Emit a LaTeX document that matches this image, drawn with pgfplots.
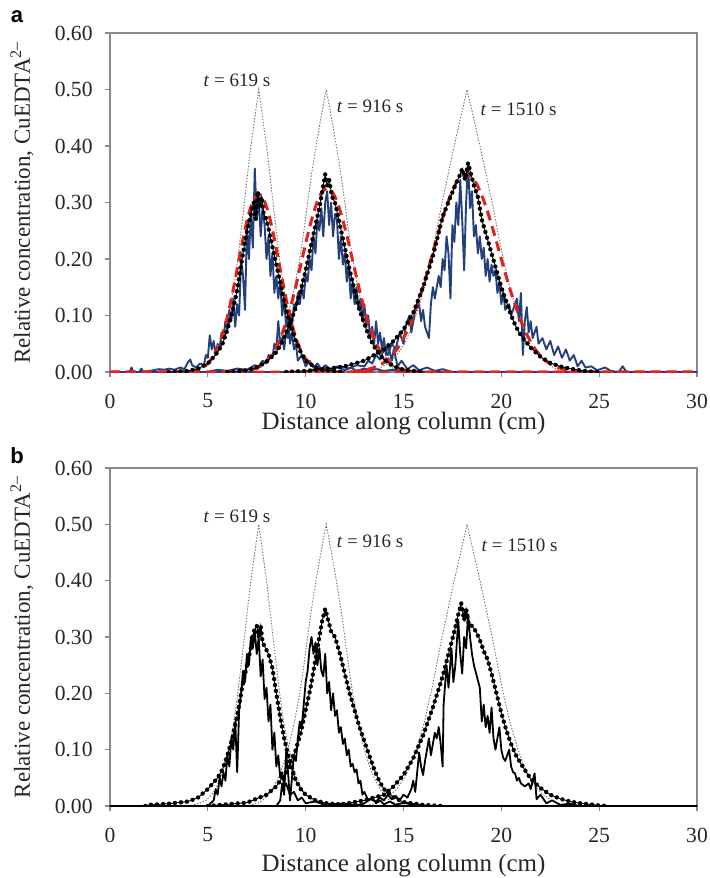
\documentclass[border=0pt]{standalone}
\usepackage{fontspec}
\setmainfont{Liberation Serif}
\newfontfamily\panelfont{Liberation Sans}
\usepackage{pgfplots}
\pgfplotsset{compat=1.18}
\definecolor{navy}{HTML}{23407A}
\definecolor{redd}{HTML}{E0221C}
\definecolor{framec}{HTML}{8A8A8A}
\definecolor{trigc}{HTML}{707070}

\tikzset{ann/.style={font=\fontsize{9.5}{11}\selectfont, text=black!85}}
\pgfplotsset{
  panel/.style={
    scale only axis, width=293.5pt, height=169.5pt,
    xmin=0, xmax=30, ymin=0, ymax=0.6,
    xtick={0,5,10,15,20,25,30}, ytick={0,0.1,0.2,0.3,0.4,0.5,0.6},
    /pgf/number format/assume math mode=true,
    axis line style={framec, line width=0.6pt},
    tick style={framec, line width=0.6pt},
    tick align=outside, major tick length=2.5pt,
    xtick pos=bottom, ytick pos=left,
    yticklabel style={/pgf/number format/fixed, /pgf/number format/fixed zerofill, /pgf/number format/precision=2,
      font=\fontsize{10.8}{12}\selectfont, text=black!85, anchor=east, inner sep=0pt, xshift=-6pt},
    xticklabel style={font=\fontsize{10.8}{12}\selectfont, text=black!85, anchor=center, inner sep=0pt, yshift=-12pt},
    xlabel={Distance along column (cm)},
    ylabel={Relative concentration, CuEDTA\textsuperscript{2–}},
    ylabel style={at={(axis description cs:-0.15,0.5)}, anchor=center, font=\fontsize{11.5}{13}\selectfont, text=black!85},
    no markers,
  },
  trig/.style={trigc, line width=0.45pt, dash pattern=on 0.7pt off 0.8pt},
  bdot/.style={black, line width=0.45pt, postaction={draw, black, line width=2.2pt, dash pattern=on 0pt off 3pt, line cap=round}},
  blu/.style={navy, line width=0.95pt, line join=round},
  redash/.style={redd, line width=1.5pt, dash pattern=on 5pt off 3pt, smooth},
  bsol/.style={black, line width=0.9pt, line join=round},
}

\begin{document}
\begin{tikzpicture}
\useasboundingbox (-55pt,-253pt) rectangle (299.5pt,186pt);

% ---------------- panel a ----------------
\begin{axis}[panel, at={(0,0)}, anchor=origin,
  xlabel style={at={(axis description cs:0.5,0)}, anchor=center, yshift=-26pt, font=\fontsize{12.5}{14}\selectfont, text=black!85}]
% triangles
\addplot[trig] coordinates {(4.0,0) (4.6,0.005) (4.9,0.01) (5.2,0.02) (5.4,0.03) (5.65,0.05) (5.87,0.075) (6.05,0.1) (6.33,0.15) (6.53,0.2) (6.7,0.25) (6.87,0.3) (7.03,0.35) (7.2,0.4) (7.4,0.45) (7.6,0.5) (7.8,0.45) (8.0,0.4) (8.17,0.35) (8.33,0.3) (8.5,0.25) (8.67,0.2) (8.87,0.15) (9.15,0.1) (9.33,0.075) (9.55,0.05) (9.8,0.03) (10.0,0.02) (10.3,0.01) (10.6,0.005) (11.2,0)};
\addplot[trig] coordinates {(6.95,0) (7.55,0.005) (7.8,0.01) (8.1,0.02) (8.3,0.03) (8.6,0.05) (8.88,0.075) (9.1,0.1) (9.43,0.15) (9.7,0.2) (9.91,0.25) (10.1,0.3) (10.3,0.35) (10.53,0.4) (10.78,0.45) (11.05,0.5) (11.32,0.45) (11.57,0.4) (11.8,0.35) (12.0,0.3) (12.19,0.25) (12.4,0.2) (12.67,0.15) (13.0,0.1) (13.22,0.075) (13.5,0.05) (13.8,0.03) (14.0,0.02) (14.3,0.01) (14.55,0.005) (15.15,0)};
\addplot[trig] coordinates {(12.95,0) (13.65,0.005) (13.95,0.01) (14.35,0.02) (14.65,0.03) (15.05,0.05) (15.38,0.075) (15.65,0.1) (16.07,0.15) (16.4,0.2) (16.69,0.25) (16.97,0.3) (17.28,0.35) (17.59,0.4) (17.92,0.45) (18.25,0.5) (18.58,0.45) (18.91,0.4) (19.22,0.35) (19.53,0.3) (19.81,0.25) (20.1,0.2) (20.43,0.15) (20.85,0.1) (21.12,0.075) (21.45,0.05) (21.85,0.03) (22.15,0.02) (22.55,0.01) (22.85,0.005) (23.55,0)};
% blue noisy
\addplot[blu] coordinates {(0,0) (1.0,0) (1.1,0.008) (1.2,0) (1.5,0) (1.6,0.006) (1.7,0) (2.2,0.003) (2.5,0.005) (2.8,0.004) (3.0,0.006) (3.3,0.004) (3.6,0.008) (3.8,0.005) (4.0,0.018) (4.1,0.022) (4.2,0.012) (4.4,0.008) (4.6,0.015) (4.8,0.012) (4.9,0.03) (5.0,0.025) (5.1,0.065) (5.2,0.04) (5.3,0.055) (5.4,0.03) (5.5,0.05) (5.6,0.04) (5.7,0.07) (5.8,0.06) (5.9,0.09) (6.0,0.075) (6.1,0.11) (6.2,0.09) (6.3,0.13) (6.4,0.08) (6.5,0.12) (6.6,0.10) (6.7,0.2) (6.8,0.17) (6.9,0.11) (7.0,0.26) (7.1,0.2) (7.2,0.28) (7.3,0.22) (7.4,0.36) (7.5,0.27) (7.6,0.31) (7.7,0.24) (7.8,0.29) (7.9,0.26) (8.0,0.2) (8.1,0.24) (8.2,0.17) (8.3,0.21) (8.4,0.14) (8.5,0.17) (8.6,0.13) (8.7,0.16) (8.8,0.1) (8.9,0.13) (9.0,0.08) (9.1,0.1) (9.2,0.05) (9.3,0.07) (9.4,0.04) (9.5,0.05) (9.6,0.02) (9.8,0.03) (10.0,0.01) (10.2,0.02) (10.4,0.008) (10.6,0.015) (10.8,0.005) (11.0,0.012) (11.3,0.004) (11.6,0.01) (12.0,0.003) (12.3,0.008) (12.6,0.002) (13.0,0.006) (13.3,0.003) (13.6,0.005) (14.0,0.002) (14.5,0.004) (15,0) (30,0)};
\addplot[blu] coordinates {(0,0) (5.0,0) (5.5,0.004) (6.0,0.002) (6.5,0.006) (7.0,0.004) (7.4,0.012) (7.6,0.01) (7.8,0.02) (8.0,0.015) (8.1,0.03) (8.3,0.025) (8.4,0.05) (8.5,0.04) (8.6,0.09) (8.7,0.05) (8.8,0.06) (8.9,0.04) (9.0,0.07) (9.1,0.06) (9.2,0.1) (9.3,0.08) (9.4,0.12) (9.5,0.11) (9.6,0.14) (9.7,0.12) (9.8,0.15) (9.9,0.13) (10.0,0.17) (10.1,0.16) (10.2,0.2) (10.3,0.18) (10.4,0.24) (10.5,0.21) (10.6,0.27) (10.7,0.25) (10.8,0.29) (10.9,0.24) (11.0,0.3) (11.1,0.32) (11.2,0.26) (11.3,0.3) (11.4,0.24) (11.5,0.28) (11.6,0.27) (11.7,0.2) (11.8,0.24) (11.9,0.19) (12.0,0.21) (12.1,0.16) (12.2,0.19) (12.3,0.13) (12.4,0.16) (12.5,0.12) (12.6,0.15) (12.7,0.11) (12.8,0.13) (12.9,0.09) (13.0,0.12) (13.1,0.08) (13.2,0.1) (13.3,0.06) (13.4,0.08) (13.5,0.05) (13.6,0.09) (13.7,0.05) (13.8,0.07) (13.9,0.04) (14.0,0.06) (14.1,0.03) (14.2,0.05) (14.4,0.02) (14.5,0.04) (14.7,0.01) (14.9,0.02) (15.2,0.005) (15.5,0.012) (15.8,0.003) (16.2,0.008) (16.6,0.002) (17.0,0.005) (17.5,0) (30,0)};
\addplot[blu] coordinates {(0,0) (10.0,0) (10.3,0.004) (10.6,0.002) (11.0,0.008) (11.4,0.005) (11.8,0.01) (12.2,0.006) (12.6,0.012) (13.0,0.01) (13.2,0.02) (13.4,0.015) (13.6,0.03) (13.8,0.022) (14.0,0.04) (14.2,0.03) (14.4,0.05) (14.6,0.04) (14.8,0.07) (15.0,0.05) (15.1,0.08) (15.3,0.1) (15.4,0.07) (15.6,0.11) (15.8,0.12) (15.9,0.09) (16.0,0.11) (16.1,0.08) (16.3,0.06) (16.4,0.12) (16.5,0.15) (16.6,0.13) (16.8,0.17) (16.9,0.15) (17.0,0.2) (17.1,0.18) (17.2,0.24) (17.3,0.21) (17.4,0.13) (17.5,0.26) (17.6,0.23) (17.7,0.3) (17.8,0.26) (17.9,0.34) (18.0,0.27) (18.1,0.18) (18.2,0.3) (18.3,0.37) (18.4,0.29) (18.5,0.32) (18.6,0.24) (18.7,0.26) (18.8,0.21) (18.9,0.24) (19.0,0.2) (19.1,0.22) (19.2,0.17) (19.3,0.2) (19.4,0.16) (19.5,0.19) (19.6,0.17) (19.7,0.18) (19.8,0.14) (19.9,0.16) (20.0,0.12) (20.1,0.14) (20.2,0.11) (20.4,0.12) (20.5,0.1) (20.6,0.11) (20.8,0.13) (20.9,0.09) (21.0,0.14) (21.1,0.03) (21.2,0.09) (21.3,0.115) (21.4,0.07) (21.5,0.09) (21.6,0.06) (21.8,0.08) (21.9,0.05) (22.1,0.06) (22.3,0.04) (22.5,0.055) (22.7,0.03) (22.9,0.045) (23.1,0.025) (23.3,0.04) (23.5,0.02) (23.7,0.03) (23.9,0.01) (24.1,0.02) (24.3,0.008) (24.6,0.01) (24.9,0.003) (25.3,0.008) (25.6,0.002) (26.0,0) (26.2,0.01) (26.4,0) (30,0)};
% red dashed model
\addplot[redash] coordinates {(0,0) (3.6,0) (4.1,0.001) (4.6,0.005) (4.85,0.010) (5.1,0.019) (5.35,0.032) (5.6,0.051) (5.85,0.078) (6.1,0.113) (6.35,0.155) (6.6,0.200) (6.85,0.244) (7.1,0.281) (7.35,0.306) (7.6,0.315) (7.85,0.306) (8.1,0.281) (8.35,0.244) (8.6,0.2) (8.85,0.155) (9.1,0.113) (9.35,0.078) (9.6,0.051) (9.85,0.032) (10.1,0.019) (10.35,0.010) (10.6,0.005) (11.1,0.001) (11.6,0) (30,0)};
\addplot[redash] coordinates {(0,0) (6.1,0) (6.6,0.001) (7.1,0.003) (7.6,0.009) (8.1,0.023) (8.35,0.035) (8.6,0.051) (8.85,0.073) (9.1,0.099) (9.35,0.131) (9.6,0.167) (9.85,0.205) (10.1,0.242) (10.35,0.275) (10.6,0.302) (10.85,0.319) (11.1,0.325) (11.35,0.319) (11.6,0.302) (11.85,0.275) (12.1,0.242) (12.35,0.205) (12.6,0.167) (12.85,0.131) (13.1,0.099) (13.35,0.073) (13.6,0.051) (13.85,0.035) (14.1,0.023) (14.6,0.009) (15.1,0.003) (15.6,0.001) (16.1,0) (30,0)};
\addplot[redash] coordinates {(0,0) (12.2,0) (12.7,0.002) (13.2,0.005) (13.7,0.011) (14.2,0.022) (14.7,0.042) (15.2,0.074) (15.7,0.119) (16.2,0.175) (16.7,0.237) (17.2,0.294) (17.7,0.335) (18.2,0.35) (18.7,0.335) (19.2,0.294) (19.7,0.237) (20.2,0.175) (20.7,0.119) (21.2,0.074) (21.7,0.042) (22.2,0.022) (22.7,0.011) (23.2,0.005) (23.7,0.002) (24.2,0) (30,0)};
% black dotted
\addplot[bdot] coordinates {(3.0,0) (4.0,0.002) (4.5,0.006) (5.0,0.015) (5.25,0.025) (5.5,0.035) (5.75,0.05) (6.0,0.075) (6.25,0.105) (6.5,0.145) (6.75,0.2) (7.0,0.25) (7.2,0.28) (7.35,0.30) (7.45,0.27) (7.55,0.32) (7.65,0.29) (7.75,0.31) (7.85,0.28) (8.0,0.27) (8.25,0.23) (8.5,0.19) (8.75,0.15) (9.0,0.11) (9.25,0.08) (9.5,0.055) (9.75,0.035) (10.0,0.02) (10.5,0.008) (11,0.003) (12,0)};
\addplot[bdot] coordinates {(6.0,0) (7.0,0.003) (7.5,0.008) (8.0,0.018) (8.5,0.035) (8.75,0.05) (9.0,0.07) (9.25,0.09) (9.5,0.115) (9.75,0.145) (10.0,0.18) (10.25,0.22) (10.5,0.26) (10.7,0.29) (10.85,0.32) (11.0,0.35) (11.1,0.33) (11.2,0.34) (11.35,0.31) (11.5,0.30) (11.75,0.26) (12.0,0.22) (12.25,0.18) (12.5,0.145) (12.75,0.11) (13.0,0.085) (13.25,0.062) (13.5,0.045) (13.75,0.032) (14.0,0.022) (14.5,0.01) (15,0.004) (16,0)};
\addplot[bdot] coordinates {(9.0,0) (10.0,0.002) (11.0,0.005) (12.0,0.01) (13.0,0.02) (14.0,0.04) (14.5,0.055) (15.0,0.075) (15.5,0.105) (16.0,0.15) (16.5,0.205) (17.0,0.275) (17.4,0.31) (17.7,0.335) (17.9,0.35) (18.0,0.36) (18.15,0.34) (18.3,0.37) (18.45,0.35) (18.6,0.33) (18.8,0.31) (19.0,0.27) (19.25,0.24) (19.5,0.21) (19.75,0.18) (20.0,0.15) (20.25,0.125) (20.5,0.10) (20.75,0.08) (21.0,0.065) (21.5,0.043) (22.0,0.027) (22.5,0.016) (23.0,0.01) (23.5,0.006) (24.0,0.003) (24.5,0.001) (25,0)};
\node[ann] at (axis cs:6.49,0.517) {\textit{t} = 619 s};
\node[ann] at (axis cs:13.29,0.471) {\textit{t} = 916 s};
\node[ann] at (axis cs:20.88,0.465) {\textit{t} = 1510 s};
\end{axis}

% ---------------- panel b ----------------
\begin{axis}[panel, at={(0,-217pt)}, anchor=origin, height=169pt,
  xlabel style={at={(axis description cs:0.5,0)}, anchor=center, yshift=-30pt, font=\fontsize{12.5}{14}\selectfont, text=black!85}]
\addplot[trig] coordinates {(4.0,0) (4.6,0.005) (4.9,0.01) (5.2,0.02) (5.4,0.03) (5.65,0.05) (5.87,0.075) (6.05,0.1) (6.33,0.15) (6.53,0.2) (6.7,0.25) (6.87,0.3) (7.03,0.35) (7.2,0.4) (7.4,0.45) (7.6,0.5) (7.8,0.45) (8.0,0.4) (8.17,0.35) (8.33,0.3) (8.5,0.25) (8.67,0.2) (8.87,0.15) (9.15,0.1) (9.33,0.075) (9.55,0.05) (9.8,0.03) (10.0,0.02) (10.3,0.01) (10.6,0.005) (11.2,0)};
\addplot[trig] coordinates {(6.95,0) (7.55,0.005) (7.8,0.01) (8.1,0.02) (8.3,0.03) (8.6,0.05) (8.88,0.075) (9.1,0.1) (9.43,0.15) (9.7,0.2) (9.91,0.25) (10.1,0.3) (10.3,0.35) (10.53,0.4) (10.78,0.45) (11.05,0.5) (11.32,0.45) (11.57,0.4) (11.8,0.35) (12.0,0.3) (12.19,0.25) (12.4,0.2) (12.67,0.15) (13.0,0.1) (13.22,0.075) (13.5,0.05) (13.8,0.03) (14.0,0.02) (14.3,0.01) (14.55,0.005) (15.15,0)};
\addplot[trig] coordinates {(12.95,0) (13.65,0.005) (13.95,0.01) (14.35,0.02) (14.65,0.03) (15.05,0.05) (15.38,0.075) (15.65,0.1) (16.07,0.15) (16.4,0.2) (16.69,0.25) (16.97,0.3) (17.28,0.35) (17.59,0.4) (17.92,0.45) (18.25,0.5) (18.58,0.45) (18.91,0.4) (19.22,0.35) (19.53,0.3) (19.81,0.25) (20.1,0.2) (20.43,0.15) (20.85,0.1) (21.12,0.075) (21.45,0.05) (21.85,0.03) (22.15,0.02) (22.55,0.01) (22.85,0.005) (23.55,0)};
% black solid noisy
\addplot[bsol] coordinates {(0,0) (5.0,0) (5.3,0.01) (5.4,0.03) (5.5,0.02) (5.6,0.05) (5.7,0.035) (5.8,0.06) (5.9,0.045) (6.0,0.09) (6.1,0.07) (6.2,0.12) (6.3,0.1) (6.4,0.15) (6.5,0.06) (6.6,0.17) (6.7,0.2) (6.8,0.24) (6.9,0.22) (7.0,0.27) (7.1,0.25) (7.2,0.3) (7.3,0.28) (7.4,0.31) (7.5,0.27) (7.6,0.3) (7.7,0.23) (7.8,0.26) (7.9,0.19) (8.0,0.21) (8.1,0.15) (8.2,0.18) (8.3,0.1) (8.4,0.13) (8.5,0.07) (8.6,0.09) (8.7,0.05) (8.8,0.06) (8.9,0.035) (9.0,0.04) (9.2,0.02) (9.4,0.025) (9.6,0.01) (9.8,0.015) (10.0,0.005) (10.5,0.008) (11,0.002) (12,0.004) (13,0) (30,0)};
\addplot[bsol] coordinates {(0,0) (8.5,0) (8.7,0.01) (8.8,0.04) (8.9,0.02) (9.0,0.095) (9.1,0.06) (9.2,0.01) (9.3,0.05) (9.4,0.09) (9.5,0.08) (9.6,0.12) (9.7,0.15) (9.8,0.14) (9.9,0.18) (10.0,0.22) (10.1,0.24) (10.2,0.28) (10.3,0.3) (10.4,0.27) (10.5,0.29) (10.6,0.25) (10.7,0.28) (10.8,0.24) (10.9,0.23) (11.0,0.27) (11.1,0.2) (11.2,0.22) (11.3,0.17) (11.4,0.2) (11.5,0.16) (11.6,0.17) (11.7,0.13) (11.8,0.14) (11.9,0.11) (12.0,0.12) (12.1,0.09) (12.2,0.1) (12.3,0.07) (12.4,0.075) (12.5,0.06) (12.6,0.065) (12.7,0.04) (12.8,0.045) (12.9,0.02) (13.0,0.025) (13.2,0.01) (13.4,0.015) (13.6,0.005) (13.8,0.01) (14.0,0.003) (14.3,0.008) (14.6,0.002) (15.0,0.006) (15.5,0.002) (16,0) (30,0)};
\addplot[bsol] coordinates {(0,0) (12.5,0) (13.0,0.005) (13.3,0.012) (13.6,0.008) (13.8,0.015) (14.0,0.01) (14.2,0.02) (14.4,0.012) (14.6,0.018) (14.8,0.01) (15.0,0.02) (15.2,0.015) (15.4,0.03) (15.5,0.045) (15.6,0.025) (15.7,0.06) (15.8,0.095) (15.9,0.07) (16.0,0.055) (16.1,0.08) (16.2,0.1) (16.3,0.12) (16.4,0.09) (16.5,0.11) (16.6,0.13) (16.7,0.12) (16.8,0.14) (16.9,0.11) (17.0,0.07) (17.05,0.18) (17.2,0.25) (17.3,0.21) (17.45,0.28) (17.55,0.22) (17.65,0.25) (17.8,0.33) (17.9,0.27) (18.0,0.235) (18.1,0.3) (18.2,0.28) (18.3,0.34) (18.4,0.3) (18.5,0.27) (18.6,0.25) (18.75,0.23) (18.9,0.21) (19.0,0.15) (19.1,0.18) (19.2,0.14) (19.3,0.16) (19.4,0.13) (19.5,0.175) (19.6,0.12) (19.7,0.1) (19.8,0.12) (19.9,0.14) (20.0,0.1) (20.1,0.085) (20.2,0.08) (20.3,0.09) (20.4,0.1) (20.5,0.07) (20.6,0.06) (20.7,0.058) (20.8,0.045) (20.9,0.05) (21.0,0.04) (21.2,0.035) (21.4,0.04) (21.5,0.03) (21.7,0.058) (21.8,0.012) (22.0,0.02) (22.3,0.005) (22.6,0.01) (23.0,0.002) (23.5,0.004) (24,0) (30,0)};
% black dotted
\addplot[bdot] coordinates {(1.8,0) (2.0,0.002) (3.0,0.004) (4.0,0.008) (4.5,0.015) (5.0,0.03) (5.5,0.05) (5.75,0.065) (6.0,0.09) (6.25,0.12) (6.5,0.16) (6.75,0.21) (7.0,0.25) (7.2,0.28) (7.35,0.31) (7.5,0.32) (7.6,0.30) (7.7,0.32) (7.8,0.29) (7.95,0.28) (8.1,0.27) (8.3,0.245) (8.5,0.2) (8.7,0.157) (8.9,0.12) (9.1,0.09) (9.3,0.065) (9.5,0.045) (9.75,0.03) (10.0,0.02) (10.5,0.01) (11,0.005) (12,0.002) (13,0)};
\addplot[bdot] coordinates {(5.0,0) (6.0,0.003) (7.0,0.006) (8.0,0.02) (8.5,0.035) (9.0,0.06) (9.25,0.08) (9.5,0.1) (9.75,0.13) (10.0,0.17) (10.25,0.21) (10.5,0.26) (10.7,0.3) (10.85,0.33) (11.0,0.35) (11.15,0.33) (11.3,0.31) (11.5,0.30) (11.75,0.27) (12.0,0.235) (12.25,0.2) (12.5,0.17) (12.75,0.14) (13.0,0.115) (13.25,0.09) (13.5,0.065) (13.75,0.045) (14.0,0.03) (14.5,0.015) (15,0.007) (16,0.002) (17,0)};
\addplot[bdot] coordinates {(11.0,0) (12.0,0.004) (13.0,0.01) (14.0,0.02) (14.5,0.035) (15.0,0.055) (15.5,0.085) (16.0,0.125) (16.5,0.175) (17.0,0.23) (17.3,0.27) (17.6,0.31) (17.8,0.34) (17.95,0.36) (18.1,0.33) (18.2,0.35) (18.35,0.32) (18.5,0.32) (18.7,0.31) (18.9,0.295) (19.1,0.275) (19.3,0.26) (19.5,0.235) (19.75,0.2) (20.0,0.165) (20.25,0.135) (20.5,0.11) (20.75,0.09) (21.0,0.075) (21.5,0.048) (22.0,0.032) (22.5,0.02) (23.0,0.013) (23.5,0.008) (24.0,0.005) (24.5,0.003) (25.0,0.001) (25.5,0)};
\node[ann] at (axis cs:6.49,0.515) {\textit{t} = 619 s};
\node[ann] at (axis cs:13.29,0.469) {\textit{t} = 916 s};
\node[ann] at (axis cs:20.93,0.462) {\textit{t} = 1510 s};
\end{axis}

\node[font=\panelfont\bfseries\fontsize{11}{12}\selectfont] at (-46.5pt,177.5pt) {a};
\node[font=\panelfont\bfseries\fontsize{11}{12}\selectfont] at (-46.5pt,-42pt) {b};
\end{tikzpicture}
\end{document}
